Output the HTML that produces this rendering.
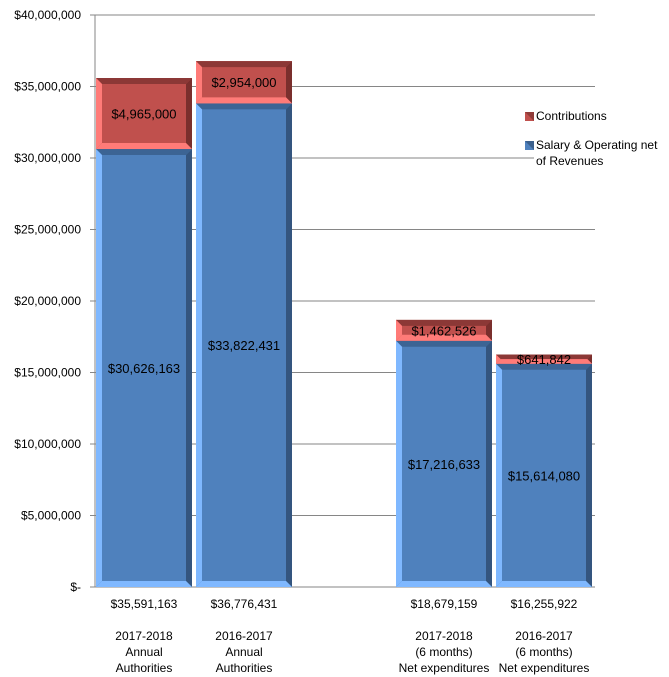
<!DOCTYPE html>
<html><head><meta charset="utf-8"><style>
body{margin:0;background:#fff;}
svg{display:block;font-family:"Liberation Sans",sans-serif;}
</style></head><body>
<svg id="chart" width="669" height="677"></svg>
<script>
const categories=[["2017-2018","Annual","Authorities"],["2016-2017","Annual","Authorities"],null,["2017-2018","(6 months)","Net expenditures"],["2016-2017","(6 months)","Net expenditures"]];
const salary=[30626163,33822431,null,17216633,15614080];
const contributions=[4965000,2954000,null,1462526,641842];
const totals=["$35,591,163","$36,776,431",null,"$18,679,159","$16,255,922"];
const ticks=[0,5000000,10000000,15000000,20000000,25000000,30000000,35000000,40000000];
const NS="http://www.w3.org/2000/svg";
const svg=document.getElementById('chart');
const x0=95,x1=595,y0=587,y1=15,ymax=40000000;
const y=v=>y0-(v/ymax)*(y0-y1);
const cw=(x1-x0)/categories.length;
function el(t,a,p){const e=document.createElementNS(NS,t);for(const k in a)e.setAttribute(k,a[k]);(p||svg).appendChild(e);return e;}
const fmt=v=>"$"+v.toLocaleString("en-US");
ticks.forEach(t=>{
 const g=el('line',{x1:x0-5,x2:x1,y1:y(t),y2:y(t),stroke:'#868686','stroke-width':1});
 
 
 const tx=el('text',{x:81,y:y(t)+4,'text-anchor':'end','font-size':12,fill:'#000'});
 tx.textContent=t===0?"$-":"$"+t.toLocaleString("en-US");
 
 
});
const ax=el('line',{x1:x0,x2:x0,y1:y1,y2:y0,stroke:'#868686'});


function bevel(xa,ya,w,h,base,light,dark,top,name,label){
 const g=el('g',{});
 
 
 const b=Math.min(6,h/2);
 el('rect',{x:xa,y:ya,width:w,height:h,fill:base},g);
 el('polygon',{points:`${xa},${ya} ${xa+w},${ya} ${xa+w-b},${ya+b} ${xa+b},${ya+b}`,fill:top},g);
 el('polygon',{points:`${xa},${ya} ${xa+b},${ya+b} ${xa+b},${ya+h-b} ${xa},${ya+h}`,fill:light},g);
 el('polygon',{points:`${xa+w},${ya} ${xa+w},${ya+h} ${xa+w-b},${ya+h-b} ${xa+w-b},${ya+b}`,fill:dark},g);
 el('polygon',{points:`${xa},${ya+h} ${xa+w},${ya+h} ${xa+w-b},${ya+h-b} ${xa+b},${ya+h-b}`,fill:light},g);
 const t=el('text',{x:xa+w/2,y:ya+h/2+5,'text-anchor':'middle','font-size':13,fill:'#000'},g);
 t.textContent=label;
}
categories.forEach((c,i)=>{
 if(!c)return;
 const xa=x0+1+i*cw,w=96;
 const ys=y(salary[i]),yt=y(salary[i]+contributions[i]);
 bevel(xa,ys,w,y0-ys,'#4f81bd','#7fb8ff','#34557f','#3c6494','bar-salary-'+i,fmt(salary[i]));
 bevel(xa,yt,w,ys-yt,'#c0504d','#ff7b78','#7a2f2d','#8c3836','bar-contributions-'+i,fmt(contributions[i]));
 const cx=xa+w/2;
 const tt=el('text',{x:cx,y:608,'text-anchor':'middle','font-size':12});
 tt.textContent=totals[i];
 
 
 c.forEach((line,j)=>{
  const l=el('text',{x:cx,y:640+j*16,'text-anchor':'middle','font-size':12});
  l.textContent=line;
  
  
 });
});
const lg=el('g',{});


el('rect',{x:534,y:105,width:135,height:65,fill:'#fff'},lg);
[["Contributions",'#c0504d',116],["Salary & Operating net",'#4f81bd',145]].forEach(([n,c,yy])=>{
 el('rect',{x:525,y:yy-4,width:9,height:9,fill:c},lg);
 el('polygon',{points:`${525},${yy-4} ${534},${yy-4} ${534},${yy+5}`,fill:'#000','fill-opacity':0.25},lg);
 const t=el('text',{x:536,y:yy+4,'font-size':12},lg);t.textContent=n;
});
const t2=el('text',{x:536,y:165,'font-size':12},lg);t2.textContent="of Revenues";
</script>
</body></html>
